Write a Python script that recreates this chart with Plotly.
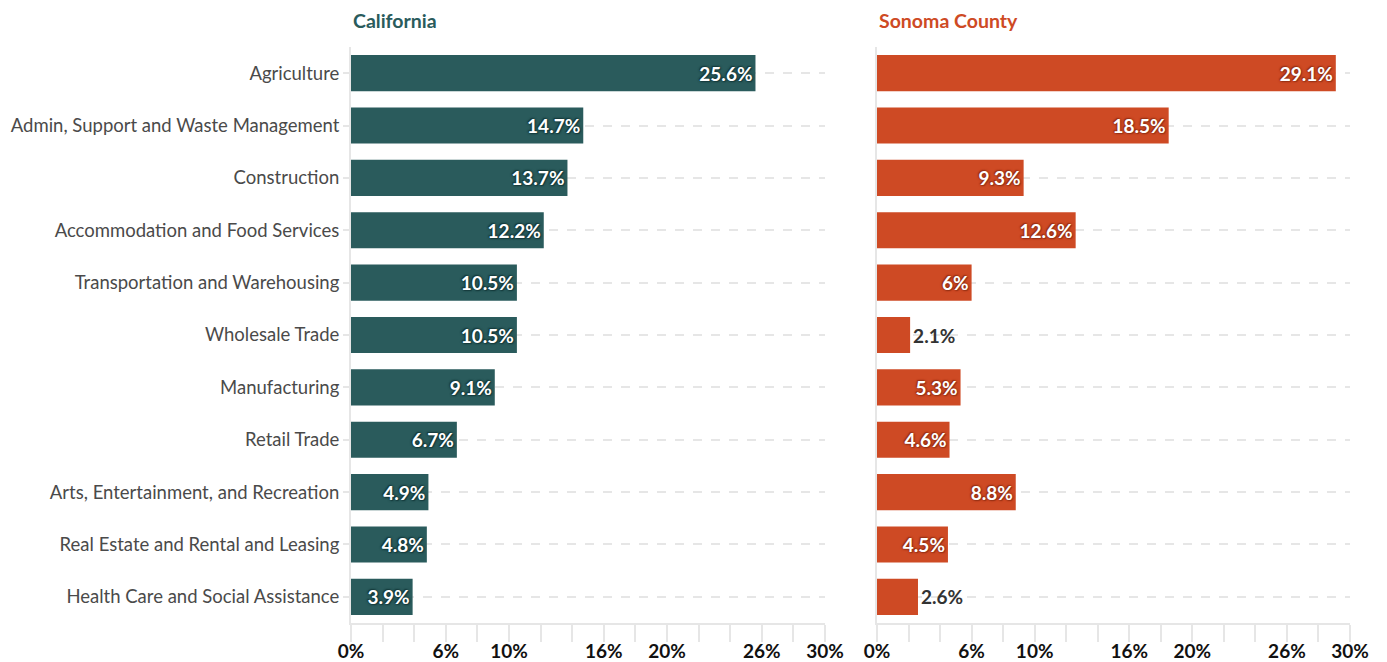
import plotly.graph_objects as go

categories = [
    "Agriculture",
    "Admin, Support and Waste Management",
    "Construction",
    "Accommodation and Food Services",
    "Transportation and Warehousing",
    "Wholesale Trade",
    "Manufacturing",
    "Retail Trade",
    "Arts, Entertainment, and Recreation",
    "Real Estate and Rental and Leasing",
    "Health Care and Social Assistance",
]
california = [25.6, 14.7, 13.7, 12.2, 10.5, 10.5, 9.1, 6.7, 4.9, 4.8, 3.9]
sonoma = [29.1, 18.5, 9.3, 12.6, 6.0, 2.1, 5.3, 4.6, 8.8, 4.5, 2.6]
tick_vals = list(range(0, 31, 2))
tick_labels = {0: "0%", 6: "6%", 10: "10%", 16: "16%", 20: "20%", 26: "26%", 30: "30%"}
panel_titles = ["California", "Sonoma County"]

TEAL = "#2a5b5c"
ORANGE = "#ce4a24"
GRID = "#e6e6e6"
FONT = "Source Sans Pro, Lato, Noto Sans, sans-serif"
OFF = 8  # page body margin
W, H = 1387 - OFF, 662 - OFF


def px_x(p):
    return (p - OFF) / W


def px_y(p):
    return (H - (p - OFF)) / H


def fmt(v):
    return f"{v:g}%"


fig = go.Figure()
for vals, color, xa, ya, halo in [
    (california, TEAL, "x", "y", "#173c3d"),
    (sonoma, ORANGE, "x2", "y2", "#9a3216"),
]:
    fig.add_trace(go.Bar(
        x=vals, y=categories, orientation="h",
        marker=dict(color=color, line=dict(width=0)),
        text=[fmt(v) for v in vals],
        textposition=["inside" if v >= 3 else "outside" for v in vals],
        insidetextanchor="end",
        insidetextfont=dict(family=FONT, size=19, color="white", weight="bold",
                            shadow=f"0 0 2px {halo}, 0 0 3px {halo}, 1px 1px 1px {halo}, -1px -1px 1px {halo}"),
        outsidetextfont=dict(family=FONT, size=19, color="#333333", weight="bold"),
        textangle=0,
        cliponaxis=False,
        xaxis=xa, yaxis=ya, showlegend=False, hoverinfo="skip",
    ))

xaxis_common = dict(
    range=[0, 30], tickvals=tick_vals,
    ticktext=[tick_labels.get(t, "") for t in tick_vals],
    showgrid=False, zeroline=False,
    showline=True, linecolor=GRID, linewidth=2,
    ticks="outside", ticklen=17, tickwidth=2, tickcolor=GRID,
    ticklabelstandoff=-7,
    tickfont=dict(family=FONT, size=19, color="#111111", weight="bold"),
    automargin=False, fixedrange=True,
)
yaxis_common = dict(
    categoryorder="array", categoryarray=categories[::-1],
    range=[-0.5, len(categories) - 0.5],
    domain=[px_y(623), px_y(47)],
    showgrid=True, gridcolor=GRID, gridwidth=2, griddash="dash",
    showline=True, linecolor=GRID, linewidth=2,
    zeroline=False, automargin=False, fixedrange=True,
)

fig.update_layout(
    width=W, height=H,
    margin=dict(l=0, r=0, t=0, b=0),
    paper_bgcolor="white", plot_bgcolor="white",
    bargap=0.31,
    xaxis=dict(domain=[px_x(351), px_x(825)], anchor="y", **xaxis_common),
    xaxis2=dict(domain=[px_x(877), px_x(1350)], anchor="y2", **xaxis_common),
    yaxis=dict(anchor="x", ticks="outside", ticklen=6, tickwidth=2, tickcolor=GRID,
               tickfont=dict(family=FONT, size=18.5, color="#4a4a4a"), **yaxis_common),
    yaxis2=dict(anchor="x2", showticklabels=False, ticks="", **yaxis_common),
    font=dict(family=FONT),
)

for title, color, x0 in [(panel_titles[0], TEAL, 351), (panel_titles[1], ORANGE, 877)]:
    fig.add_annotation(
        text=f"<b>{title}</b>", x=px_x(x0), y=px_y(21), xref="paper", yref="paper",
        xanchor="left", yanchor="middle", showarrow=False,
        font=dict(family=FONT, size=19.5, color=color),
    )

fig.write_html("out.html")
